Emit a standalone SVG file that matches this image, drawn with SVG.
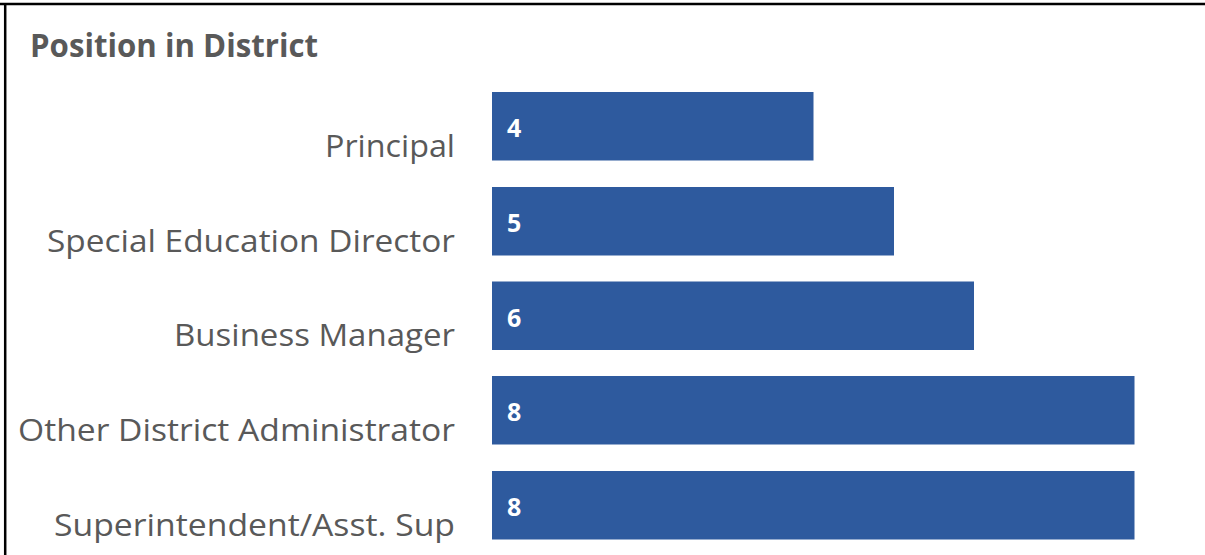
<svg xmlns="http://www.w3.org/2000/svg" width="1205" height="555" viewBox="0 0 1205 555">
<style>
.title{font-family:"Open Sans","Liberation Sans",sans-serif;font-weight:bold;font-size:33px;fill:#595959}
.lab{font-family:"Open Sans","Liberation Sans",sans-serif;font-size:31px;fill:#595959;text-anchor:end}
.bar{fill:#2E5A9E}
.val{font-family:"Open Sans","Liberation Sans",sans-serif;font-weight:bold;font-size:25px;fill:#ffffff}
</style>
<rect x="0" y="0" width="1205" height="555" fill="#ffffff"/>
<g id="frame">
<line x1="0" y1="4" x2="1205" y2="4" stroke="#000" stroke-width="2.5"/>
<line x1="5.2" y1="3" x2="5.2" y2="555" stroke="#000" stroke-width="2.5"/>
</g>
<text id="title" class="title" x="30" y="57" textLength="288" lengthAdjust="spacingAndGlyphs">Position in District</text>
<g id="principal">
<text class="lab" x="455" y="157" textLength="130" lengthAdjust="spacingAndGlyphs">Principal</text>
<rect class="bar" x="492" y="92" width="321.5" height="68.5"/>
<text class="val" x="507" y="137">4</text>
</g>
<g id="sped">
<text class="lab" x="455" y="252" textLength="408" lengthAdjust="spacingAndGlyphs">Special Education Director</text>
<rect class="bar" x="492" y="187" width="402" height="68.5"/>
<text class="val" x="507" y="232">5</text>
</g>
<g id="business">
<text class="lab" x="455" y="346" textLength="281" lengthAdjust="spacingAndGlyphs">Business Manager</text>
<rect class="bar" x="492" y="281.5" width="482" height="68.5"/>
<text class="val" x="507" y="327">6</text>
</g>
<g id="other">
<text class="lab" x="455" y="441" textLength="437" lengthAdjust="spacingAndGlyphs">Other District Administrator</text>
<rect class="bar" x="492" y="376" width="642.5" height="68.5"/>
<text class="val" x="507" y="421">8</text>
</g>
<g id="super">
<text class="lab" x="455" y="536" textLength="401" lengthAdjust="spacingAndGlyphs">Superintendent/Asst. Sup</text>
<rect class="bar" x="492" y="471" width="642.5" height="68.5"/>
<text class="val" x="507" y="516">8</text>
</g>
<g id="connectors"></g>
</svg>
